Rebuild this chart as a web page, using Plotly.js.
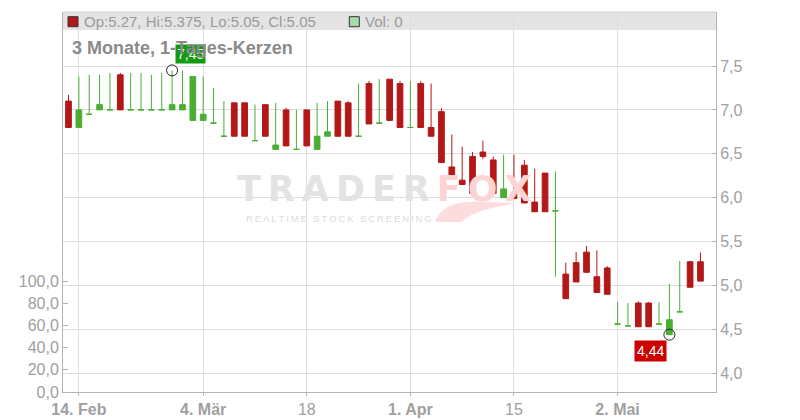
<!DOCTYPE html>
<html><head><meta charset="utf-8">
<script src="https://cdn.plot.ly/plotly-3.0.1.min.js"></script>
<style>html,body{margin:0;padding:0;background:#fff}</style>
</head><body><div id="chart" style="width:800px;height:420px"></div>
<script>
// ---- data ----
const openP  = [7.10,6.80,6.95,7.00,7.00,7.40,7.00,7.00,7.00,7.00,
                7.00,7.00,6.88,6.88,6.85,6.70,7.08,7.08,6.65,7.06,
                6.55,7.00,6.55,7.00,6.55,6.70,7.10,7.08,6.70,7.30,
                6.85,7.35,7.30,6.80,7.30,6.80,6.98,6.35,6.20,6.47,
                6.52,6.43,6.00,6.05,6.37,5.95,6.28,5.85,5.13,5.26,
                5.38,5.10,5.20,4.56,4.54,4.80,4.80,4.56,4.44,4.70,
                5.27,5.27];
const highP  = [7.17,7.38,7.40,7.40,7.42,7.42,7.42,7.42,7.40,7.42,
                7.45,7.45,7.38,7.38,7.25,7.10,7.08,7.08,7.06,7.06,
                7.08,7.025,7.00,7.00,7.08,7.10,7.10,7.10,7.30,7.33,
                7.35,7.35,7.33,7.33,7.33,7.30,7.02,6.72,6.58,6.52,
                6.65,6.47,6.49,6.49,6.43,6.33,6.28,6.30,5.26,5.38,
                5.45,5.40,5.22,4.81,4.80,4.82,4.81,4.81,5.02,5.28,
                5.28,5.375];
const lowP   = [6.80,6.80,6.95,7.00,7.00,7.00,7.00,7.00,7.00,7.00,
                7.00,7.00,6.88,6.88,6.85,6.70,6.70,6.70,6.65,6.70,
                6.55,6.59,6.55,6.59,6.55,6.70,6.70,6.70,6.70,6.84,
                6.85,6.88,6.80,6.80,6.80,6.70,6.40,6.24,6.15,6.05,
                6.44,6.05,6.00,5.99,5.94,5.84,5.84,5.10,4.85,5.04,
                5.15,4.92,4.90,4.56,4.54,4.53,4.53,4.56,4.44,4.70,
                4.98,5.05];
const closeP = [6.80,7.00,6.95,7.06,7.00,7.00,7.00,7.00,7.00,7.00,
                7.06,7.06,7.38,6.95,6.85,6.70,6.70,6.70,6.65,6.70,
                6.60,6.59,6.55,6.59,6.70,6.75,6.70,6.70,6.70,6.84,
                6.85,6.88,6.80,6.80,6.80,6.70,6.40,6.24,6.15,6.05,
                6.47,6.05,6.10,5.99,5.94,5.84,5.84,5.85,4.85,5.04,
                5.15,4.92,4.90,4.56,4.54,4.53,4.53,4.56,4.61,4.70,
                4.98,5.05];
const volume = [0,0,0,0,0,0,0,0,0,0,0,0,0,0,0,0,0,0,0,0,
                0,0,0,0,0,0,0,0,0,0,0,0,0,0,0,0,0,0,0,0,
                0,0,0,0,0,0,0,0,0,0,0,0,0,0,0,0,0,0,0,0,0,0];
const tickIdx  = [1, 13, 23, 33, 43, 53];
const tickText = ['<b>14. Feb</b>', '<b>4. Mär</b>', '18', '<b>1. Apr</b>', '15', '<b>2. Mai</b>'];
const priceTicks = [4.0, 4.5, 5.0, 5.5, 6.0, 6.5, 7.0, 7.5];
const volTicks   = [0, 20, 40, 60, 80, 100];
const chartTitle = '3 Monate, 1-Tages-Kerzen';

// ---- build ----
const UP = '#4aae34', DOWN = '#b31818', FONT = 'Liberation Sans, Arial, sans-serif';
const idx = openP.map((_, i) => i);
const isUp = i => closeP[i] >= openP[i];
const pick = (arr, up) => arr.map((v, i) => (isUp(i) === up ? v : null));
const fmt = (v, d) => v.toFixed(d).replace('.', ',');

function candle(up) {
  const c = up ? UP : DOWN;
  return {
    type: 'candlestick', x: idx,
    open: pick(openP, up), high: pick(highP, up), low: pick(lowP, up), close: pick(closeP, up),
    increasing: {line: {color: c, width: 1}, fillcolor: c},
    decreasing: {line: {color: c, width: 1}, fillcolor: c},
    whiskerwidth: 0, hoverinfo: 'skip', showlegend: false
  };
}

const maxH = Math.max(...highP), iMax = highP.indexOf(maxH);
const minL = Math.min(...lowP),  iMin = lowP.indexOf(minL);
const last = openP.length - 1;

const traces = [
  {type: 'bar', x: idx, y: volume, yaxis: 'y2', marker: {color: '#a9dba9', line: {width: 0}}, hoverinfo: 'skip', showlegend: false},
  candle(true), candle(false),
  {type: 'scatter', mode: 'markers', x: [iMax, iMin], y: [maxH, minL], cliponaxis: false,
   marker: {symbol: 'circle-open', size: 11, color: '#222', line: {width: 1}}, hoverinfo: 'skip', showlegend: false}
];

// pixel helpers for decorative layout elements
const L = 63, R = 84, T = 12, B = 28, W = 800 - L - R, H = 420 - T - B;
const px = x => (x - L) / W, py = y => 1 - (y - T) / H;

const tail = `M ${px(435)},${py(222)} C ${px(440)},${py(208)} ${px(455)},${py(200)} ${px(480)},${py(202)} ` +
             `L ${px(517)},${py(203)} C ${px(495)},${py(207)} ${px(472)},${py(211)} ${px(462)},${py(222)} Z`;

const sp = '\u2009';
const layout = {
  width: 800, height: 420,
  margin: {l: L, r: R, t: T, b: B, pad: 0},
  paper_bgcolor: '#fff', plot_bgcolor: '#fff',
  separators: ',.',
  font: {family: FONT, color: '#9a9a9a', size: 16},
  boxgap: 0.45, boxgroupgap: 0, boxmode: 'overlay',
  showlegend: false,
  xaxis: {
    range: [-0.531, 62.5], tickvals: tickIdx, ticktext: tickText,
    showgrid: true, gridcolor: '#dedede', gridwidth: 1,
    showline: true, linecolor: '#b4b4b4', linewidth: 1,
    ticks: 'outside', ticklen: 3, tickcolor: '#b4b4b4',
    tickfont: {size: 16, color: '#a0a0a0', family: FONT},
    zeroline: false, rangeslider: {visible: false}, fixedrange: true
  },
  yaxis: {
    side: 'right', range: [3.787, 8.115], tickvals: priceTicks, tickformat: '.1f',
    showgrid: true, gridcolor: '#dedede', gridwidth: 1,
    showline: true, linecolor: '#b4b4b4', linewidth: 1,
    ticks: 'inside', ticklen: 4, tickcolor: '#b4b4b4',
    tickfont: {size: 16, color: '#a0a0a0', family: FONT}, zeroline: false
  },
  yaxis2: {
    overlaying: 'y', side: 'left', range: [0, 343], tickvals: volTicks, tickformat: '.1f',
    showgrid: false, showline: true, linecolor: '#b4b4b4', linewidth: 1,
    ticks: 'inside', ticklen: 5, tickcolor: '#b4b4b4',
    tickfont: {size: 16, color: '#a0a0a0', family: FONT}, zeroline: false
  },
  shapes: [
    {type: 'rect', xref: 'paper', yref: 'paper', x0: 0, x1: 1, y0: py(30), y1: 1,
     fillcolor: '#e4e4e4', line: {width: 0}, layer: 'below'},
    {type: 'line', xref: 'paper', yref: 'paper', x0: 0, x1: 1, y0: 1, y1: 1,
     line: {color: '#cfcfcf', width: 1}, layer: 'below'},
    {type: 'path', xref: 'paper', yref: 'paper', path: tail, fillcolor: '#fcdcdc', line: {width: 0}, layer: 'below'},
    {type: 'rect', xref: 'paper', yref: 'paper', x0: px(68), x1: px(78), y0: py(26.7), y1: py(16.7),
     fillcolor: DOWN, line: {color: '#333', width: 1}},
    {type: 'rect', xref: 'paper', yref: 'paper', x0: px(349.3), x1: px(359.3), y0: py(26.7), y1: py(16.7),
     fillcolor: '#a9dba9', line: {color: '#333', width: 1}}
  ],
  annotations: [
    // watermark
    {xref: 'paper', yref: 'paper', x: px(384), y: py(189), xanchor: 'center', yanchor: 'middle', showarrow: false,
     text: '<b>' + 'TRADER'.split('').join(sp) + sp + '<span style="color:#fcd4d4">' + 'FOX'.split('').join(sp) + '</span></b>',
     font: {size: 35, color: '#e3e3e3', family: 'DejaVu Sans, Liberation Sans, sans-serif'}},
    {xref: 'paper', yref: 'paper', x: px(338.7), y: py(218.5), xanchor: 'center', yanchor: 'middle', showarrow: false,
     text: 'REALTIME STOCK SCREENING'.split('').join(sp),
     font: {size: 9.5, color: '#dcdcdc', family: FONT}},
    // high / low labels
    {x: iMax, y: maxH, xref: 'x', yref: 'y', xanchor: 'left', yanchor: 'bottom', xshift: 3, yshift: 6,
     showarrow: false, text: fmt(maxH, 2), bgcolor: '#139a13', borderpad: 1,
     font: {size: 14, color: '#fff', family: FONT}},
    {x: iMin, y: minL, xref: 'x', yref: 'y', xanchor: 'right', yanchor: 'top', xshift: -2, yshift: -5,
     showarrow: false, text: fmt(minL, 2), bgcolor: '#cc0000', borderpad: 2,
     font: {size: 14, color: '#fff', family: FONT}},
    // header
    {xref: 'paper', yref: 'paper', x: px(82), y: py(21.5), xanchor: 'left', yanchor: 'middle', showarrow: false,
     text: `Op:${openP[last]}, Hi:${highP[last]}, Lo:${lowP[last]}, Cl:${closeP[last]}`,
     font: {size: 15, color: '#9a9a9a', family: FONT}},
    {xref: 'paper', yref: 'paper', x: px(363), y: py(21.5), xanchor: 'left', yanchor: 'middle', showarrow: false,
     text: `Vol: ${volume[last]}`, font: {size: 15, color: '#9a9a9a', family: FONT}},
    // title
    {xref: 'paper', yref: 'paper', x: px(70), y: py(47.5), xanchor: 'left', yanchor: 'middle', showarrow: false,
     text: '<b>' + chartTitle + '</b>', font: {size: 18, color: '#8a8a8a', family: FONT}}
  ]
};

Plotly.newPlot('chart', traces, layout, {displayModeBar: false, staticPlot: true});
</script></body></html>
